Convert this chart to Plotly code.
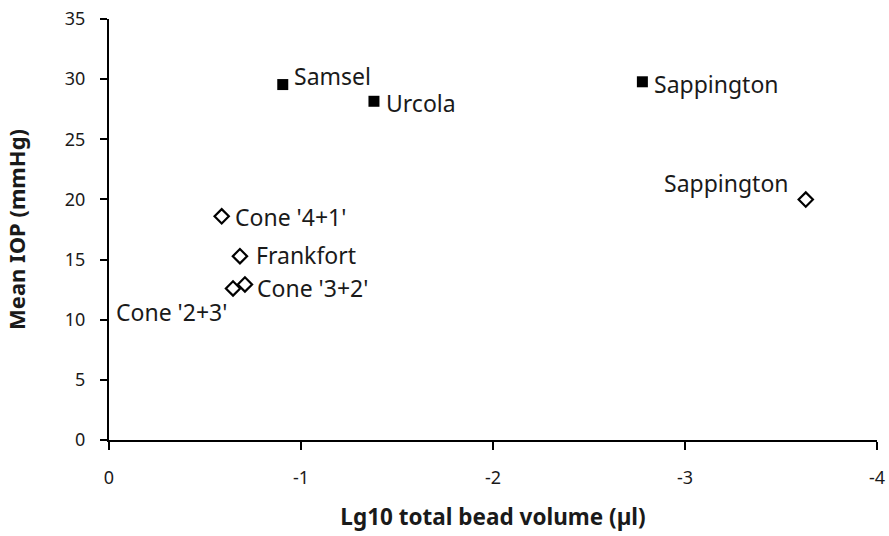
import plotly.graph_objects as go

# Data
filled_names = ["Samsel", "Urcola", "Sappington"]
filled_x = [-0.905, -1.38, -2.778]
filled_y = [29.55, 28.16, 29.78]

open_names = ["Sappington", "Cone '4+1'", "Frankfort", "Cone '3+2'", "Cone '2+3'"]
open_x = [-3.629, -0.587, -0.682, -0.708, -0.646]
open_y = [19.99, 18.6, 15.28, 12.93, 12.6]

x_ticks = [0, -1, -2, -3, -4]
x_ticktext = ["0", "-1", "-2", "-3", "-4"]
y_ticks = [0, 5, 10, 15, 20, 25, 30, 35]

# label placement (style): xanchor, xshift, yshift (px)
filled_pos = [("left", 9, 9), ("left", 10, -2), ("left", 10, -2)]
open_pos = [("right", -15, 17), ("left", 11, -1), ("left", 14, 1),
            ("left", 10, -4), ("right", -4, -24)]

FONT = "Noto Sans"
TXT = "#1a1a1a"
fig = go.Figure()
fig.add_trace(go.Scatter(x=filled_x, y=filled_y, mode="markers",
                         marker=dict(symbol="square", size=11, color="black"),
                         showlegend=False))
fig.add_trace(go.Scatter(x=open_x, y=open_y, mode="markers",
                         marker=dict(symbol="diamond-open", size=11, color="black",
                                     line=dict(width=2.2, color="black")),
                         showlegend=False))

anns = []
for names, xs, ys, pos in [(filled_names, filled_x, filled_y, filled_pos),
                           (open_names, open_x, open_y, open_pos)]:
    for n, x, y, (xa, dx, dy) in zip(names, xs, ys, pos):
        anns.append(dict(x=x, y=y, text=n, showarrow=False, xanchor=xa, yanchor="middle",
                         xshift=dx, yshift=dy, font=dict(family=FONT, size=23, color=TXT)))

fig.update_layout(
    width=889, height=536,
    margin=dict(l=109, r=12, t=19, b=96),
    plot_bgcolor="white", paper_bgcolor="white",
    font=dict(family=FONT, size=18, color=TXT),
    annotations=anns,
    xaxis=dict(range=[0, -4], tickmode="array", tickvals=x_ticks, ticktext=x_ticktext,
               automargin=False, tickfont=dict(size=18), ticklabelstandoff=12,
               showgrid=False, zeroline=False, showline=True, linecolor="black", linewidth=2,
               ticks="outside", ticklen=8, tickwidth=2, tickcolor="black",
               title=dict(text="<b>Lg10 total bead volume (µl)</b>", font=dict(size=22.5), standoff=22)),
    yaxis=dict(range=[0, 35], tickmode="array", tickvals=y_ticks,
               automargin=False, tickfont=dict(size=18), ticklabelstandoff=11,
               showgrid=False, zeroline=False, showline=True, linecolor="black", linewidth=2,
               ticks="outside", ticklen=7, tickwidth=2, tickcolor="black",
               title=dict(text="<b>Mean IOP (mmHg)</b>", font=dict(size=22), standoff=33)),
)
fig.write_html("out.html", config={"displayModeBar": False},
               post_script="document.body.style.margin='0';")
